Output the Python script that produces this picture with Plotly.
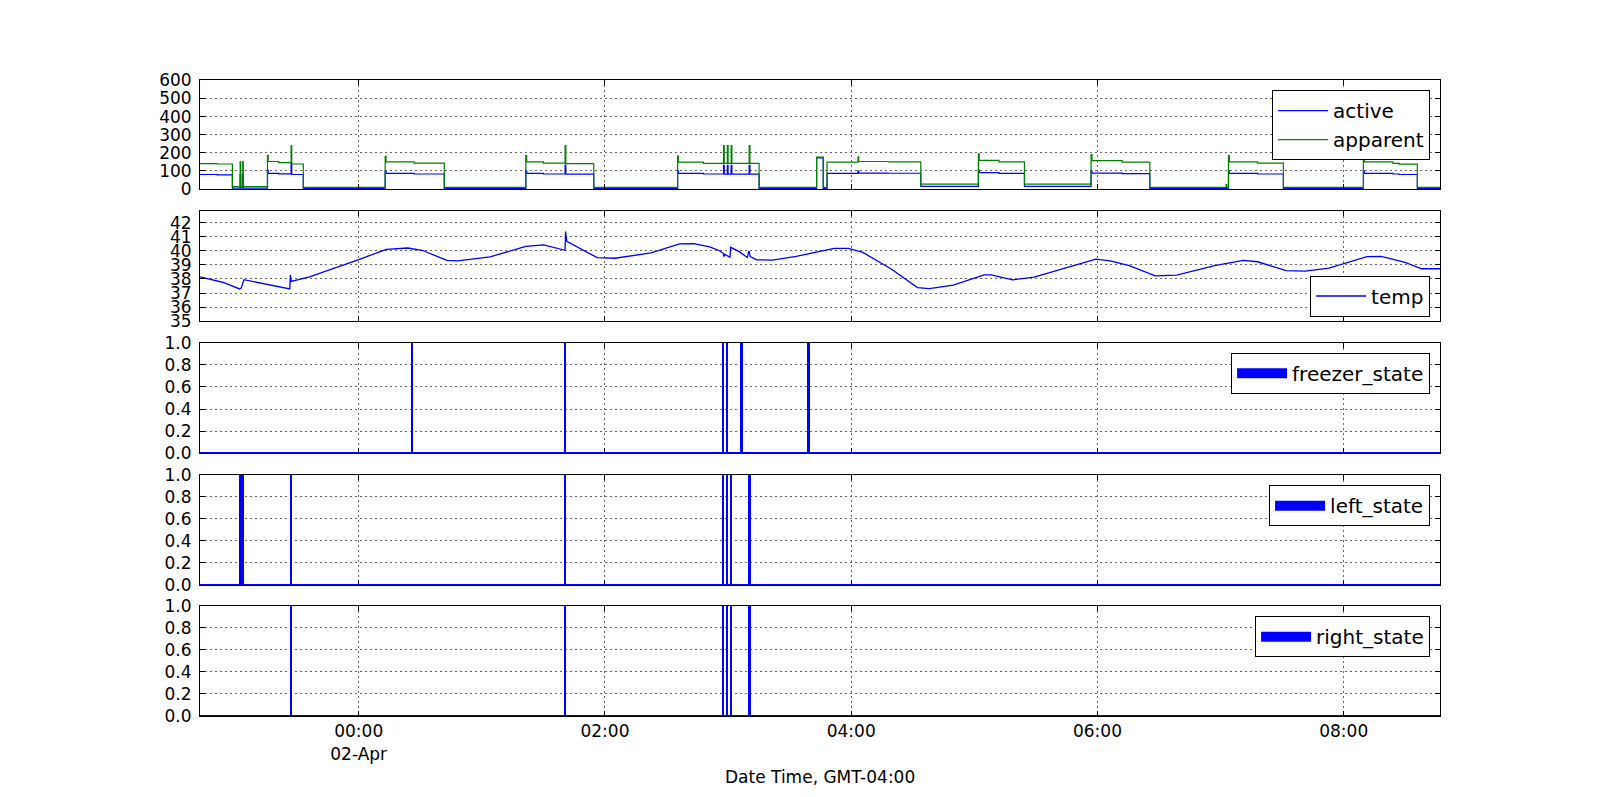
import pandas as pd
import plotly.graph_objects as go
from plotly.subplots import make_subplots

# ---------------- data (time in hours relative to 02-Apr 00:00, GMT-04:00) -------------
BASE = pd.Timestamp("2015-04-02 00:00:00")

power_hours = [-1.289, -1.15, -1.026, -0.963, -0.958, -0.942, -0.937, -0.741, -0.735, -0.65,
               -0.549, -0.544, -0.45, 0.215, 0.222, 0.45, 0.695, 1.357, 1.364, 1.50,
               1.676, 1.682, 1.909, 2.59, 2.597, 2.80, 2.963, 2.969, 2.994, 3.000,
               3.025, 3.031, 3.171, 3.177, 3.252, 3.719, 3.773, 3.804, 4.055, 4.061,
               4.30, 4.565, 5.033, 5.04, 5.20, 5.407, 5.948, 5.955, 6.20, 6.425,
               7.045, 7.050, 7.064, 7.071, 7.30, 7.510, 8.160, 8.167, 8.40, 8.45,
               8.598, 8.782]
active = [80, 78, 5, 80, 5, 80, 5, 104, 86, 84,
          140, 80, 4, 100, 86, 83, 4, 102, 86, 83,
          132, 82, 4, 100, 86, 83, 130, 82, 130, 82,
          130, 82, 130, 82, 4, 172, 4, 86, 100, 88,
          87, 15, 105, 90, 86, 15, 100, 88, 85, 4,
          4, 4, 100, 86, 83, 4, 100, 86, 83, 80,
          4, 4]
apparent = [140, 138, 14, 150, 14, 150, 14, 186, 152, 146,
            238, 138, 9, 180, 150, 143, 9, 185, 150, 143,
            240, 140, 9, 182, 148, 142, 240, 142, 240, 142,
            240, 142, 240, 142, 9, 176, 9, 148, 178, 152,
            150, 27, 194, 158, 150, 27, 190, 157, 148, 9,
            25, 9, 185, 150, 143, 9, 181, 150, 142, 137,
            9, 9]

temp_hours = [-1.289, -1.10, -0.967, -0.955, -0.932, -0.80, -0.560, -0.555, -0.548, -0.40,
              -0.241, 0.0, 0.224, 0.30, 0.398, 0.514, 0.62, 0.717, 0.804, 1.066,
              1.357, 1.502, 1.676, 1.680, 1.690, 1.792, 1.937, 2.082, 2.373, 2.606,
              2.722, 2.851, 2.935, 2.963, 2.965, 2.975, 3.015, 3.021, 3.09, 3.156,
              3.170, 3.180, 3.233, 3.36, 3.553, 3.862, 3.978, 4.094, 4.325, 4.538,
              4.634, 4.828, 5.079, 5.137, 5.311, 5.485, 5.987, 6.103, 6.258, 6.47,
              6.643, 6.952, 7.185, 7.30, 7.532, 7.687, 7.88, 8.189, 8.305, 8.498,
              8.633, 8.782]
temp = [38.15, 37.75, 37.29, 37.35, 37.95, 37.70, 37.29, 38.29, 37.83, 38.15,
        38.62, 39.38, 40.12, 40.18, 40.21, 40.05, 39.70, 39.33, 39.29, 39.57,
        40.33, 40.43, 40.05, 41.38, 40.69, 40.21, 39.52, 39.48, 39.86, 40.50,
        40.52, 40.29, 40.00, 39.80, 39.60, 39.75, 39.55, 40.26, 39.95, 39.54,
        40.00, 39.60, 39.37, 39.35, 39.61, 40.19, 40.19, 39.90, 38.71, 37.39,
        37.32, 37.56, 38.30, 38.30, 37.94, 38.13, 39.42, 39.30, 38.95, 38.23,
        38.28, 38.95, 39.33, 39.23, 38.59, 38.56, 38.78, 39.59, 39.61, 39.18,
        38.73, 38.73]

freezer_hours = [0.432, 1.676, 2.963, 2.995, 3.111, 3.655]
freezer_state = [1, 1, 1, 1, 1, 1]
left_hours = [-0.963, -0.942, -0.550, 1.676, 2.963, 2.995, 3.025, 3.176]
left_state = [1, 1, 1, 1, 1, 1, 1, 1]
right_hours = [-0.550, 1.676, 2.963, 2.995, 3.025, 3.176]
right_state = [1, 1, 1, 1, 1, 1]

x_range_hours = [-1.289, 8.782]
tick_hours = [0, 2, 4, 6, 8]
tick_text = ["00:00<br>02-Apr", "02:00", "04:00", "06:00", "08:00"]


def ts(hours):
    return [BASE + pd.Timedelta(hours=h) for h in hours]


BLUE = "#0000ff"
GREEN = "#008000"
FONT = "DejaVu Sans"

fig = make_subplots(rows=5, cols=1, shared_xaxes=True, vertical_spacing=0.03)

fig.add_trace(go.Scatter(x=ts(power_hours), y=active, mode="lines", line_shape="hv",
                         line=dict(color=BLUE, width=1.2), name="active", legend="legend"),
              row=1, col=1)
fig.add_trace(go.Scatter(x=ts(power_hours), y=apparent, mode="lines", line_shape="hv",
                         line=dict(color=GREEN, width=1.2), name="apparent", legend="legend"),
              row=1, col=1)
fig.add_trace(go.Scatter(x=ts(temp_hours), y=temp, mode="lines",
                         line=dict(color=BLUE, width=1.3), name="temp", legend="legend2"),
              row=2, col=1)
for r, (hrs, vals, nm, lg) in enumerate([(freezer_hours, freezer_state, "freezer_state", "legend3"),
                                         (left_hours, left_state, "left_state", "legend4"),
                                         (right_hours, right_state, "right_state", "legend5")], start=3):
    fig.add_trace(go.Bar(x=ts(hrs), y=vals, width=50000, marker=dict(color=BLUE, line=dict(width=0)),
                         name=nm, showlegend=False), row=r, col=1)
    # legend entry (patch) for the bar series
    fig.add_trace(go.Scatter(x=[None], y=[None], mode="lines", line=dict(color=BLUE, width=14),
                             name=nm, legend=lg), row=r, col=1)

# panel layout (in paper fractions of plot area)
domains = [[0.8286, 1.0], [0.621, 0.794], [0.4135, 0.5865], [0.206, 0.379], [0.0, 0.173]]
grid = dict(showgrid=True, gridcolor="#666666", gridwidth=1, griddash="2px,3px")
axis_common = dict(showline=True, linecolor="black", linewidth=1, mirror="ticks",
                   ticks="inside", ticklen=5, tickcolor="black", zeroline=False,
                   tickfont=dict(family=FONT, size=17, color="black"), **grid)

for i in range(1, 6):
    xa = "xaxis" if i == 1 else f"xaxis{i}"
    ya = "yaxis" if i == 1 else f"yaxis{i}"
    fig.layout[ya].update(domain=domains[i - 1], ticklabelstandoff=4, **axis_common)
    fig.layout[xa].update(type="date", range=ts(x_range_hours), tickmode="array",
                          tickvals=ts(tick_hours), ticktext=tick_text,
                          showticklabels=(i == 5), **axis_common)

fig.update_yaxes(range=[0, 602], tickmode="linear", tick0=0, dtick=100, row=1, col=1)
fig.update_yaxes(range=[35, 42.85], tickmode="linear", tick0=35, dtick=1, row=2, col=1)
for r in (3, 4, 5):
    fig.update_yaxes(range=[0, 1.0], tickmode="linear", tick0=0, dtick=0.2, tickformat=".1f",
                     row=r, col=1)

# blue baselines at zero in state panels
shapes = []
for i in (3, 4, 5):
    shapes.append(dict(type="line", xref=f"x{i} domain", x0=0, x1=1, yref=f"y{i}", y0=0, y1=0,
                       line=dict(color=BLUE, width=2), layer="above"))

leg_common = dict(xanchor="right", x=0.992, yanchor="top", bgcolor="white", bordercolor="black",
                  borderwidth=1, font=dict(family=FONT, size=20, color="black"),
                  tracegroupgap=0, itemwidth=50)

fig.update_layout(
    width=1584, height=781,
    margin=dict(l=192, r=152, t=72, b=73),
    paper_bgcolor="white", plot_bgcolor="white",
    font=dict(family=FONT, size=17, color="black"),
    shapes=shapes,
    legend=dict(y=0.984, **leg_common),
    legend2=dict(y=0.6926, **leg_common),
    legend3=dict(y=0.571, **leg_common),
    legend4=dict(y=0.363, **leg_common),
    legend5=dict(y=0.157, **leg_common),
    annotations=[dict(text="Date Time, GMT-04:00", xref="paper", yref="paper", x=0.5, y=-0.0959,
                      xanchor="center", yanchor="middle", showarrow=False,
                      font=dict(family=FONT, size=17, color="black"))],
    bargap=0,
)

fig.write_html("out.html")
